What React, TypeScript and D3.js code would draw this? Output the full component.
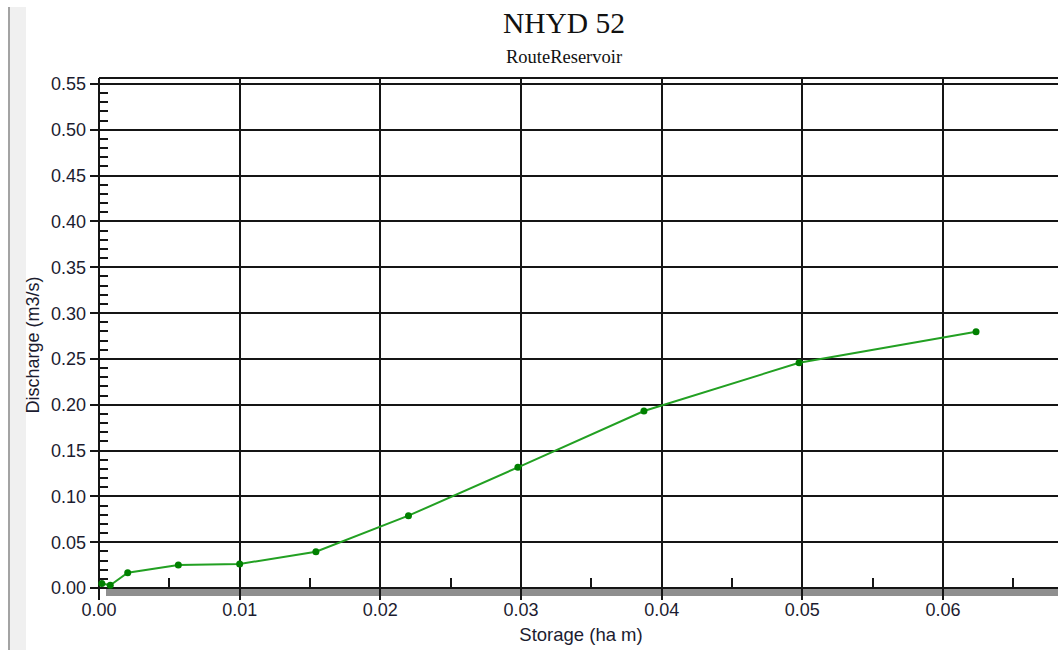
import React, { useEffect, useRef } from 'react';
import * as d3 from 'd3';

// storage (ha m) vs discharge (m3/s)
const STORAGE = [0.0002, 0.0008, 0.00204, 0.00564, 0.0100, 0.01542, 0.0220, 0.02978, 0.03874, 0.04977, 0.06235];
const DISCHARGE = [0.005, 0.003, 0.0167, 0.0251, 0.0262, 0.0396, 0.0789, 0.1317, 0.1931, 0.2458, 0.2797];
const X_TICKS = [0, 0.01, 0.02, 0.03, 0.04, 0.05, 0.06];
const Y_TICKS = [0, 0.05, 0.1, 0.15, 0.2, 0.25, 0.3, 0.35, 0.4, 0.45, 0.5, 0.55];

const W = 1058;
const H = 650;

const App: React.FC = () => {
  const svgRef = useRef<SVGSVGElement | null>(null);

  useEffect(() => {
    if (!svgRef.current) return;
    const svg = d3.select(svgRef.current);
    svg.selectAll('*').remove();

    const left = 99;
    const top = 78;
    const bottom = 588;

    const x = d3.scaleLinear().domain([0, 0.06]).range([left, 943]);
    const y = d3.scaleLinear().domain([0, 0.55]).range([bottom, 84]);
    const ink = '#151515';
    const sans = '"Liberation Sans", Arial, sans-serif';
    const labelColor = '#1c1c30';

    svg.append('rect').attr('width', W).attr('height', H).attr('fill', '#fff');

    // left window strip
    svg.append('rect').attr('x', 9).attr('y', 7).attr('width', 17).attr('height', H).attr('fill', '#f0f0f0');
    svg.append('rect').attr('x', 8).attr('y', 7).attr('width', 2).attr('height', H).attr('fill', '#a3a3a3');

    // title
    svg.append('text')
      .attr('x', 564).attr('y', 33)
      .attr('text-anchor', 'middle')
      .style('font-family', '"Liberation Serif", "Times New Roman", serif')
      .style('font-size', '29.5px')
      .attr('fill', '#111')
      .text('NHYD 52');
    svg.append('text')
      .attr('x', 564).attr('y', 63)
      .attr('text-anchor', 'middle')
      .style('font-family', '"Liberation Serif", "Times New Roman", serif')
      .style('font-size', '18.5px')
      .attr('fill', '#111')
      .text('RouteReservoir');

    // shadow under x axis
    svg.append('rect').attr('x', 106).attr('y', 589).attr('width', W).attr('height', 7).attr('fill', '#8f8f8f');

    const g = svg.append('g').attr('stroke', ink).attr('stroke-width', 2).attr('fill', 'none');

    // top border
    g.append('line').attr('x1', left).attr('x2', W).attr('y1', top).attr('y2', top);

    // horizontal grid + major y ticks
    g.selectAll('line.hy').data(Y_TICKS).enter().append('line')
      .attr('class', 'hy')
      .attr('x1', left - 9).attr('x2', W)
      .attr('y1', (d) => Math.round(y(d))).attr('y2', (d) => Math.round(y(d)));

    // minor y ticks
    const yMinor = d3.range(0, 0.55, 0.01).filter((v) => Math.abs(v / 0.05 - Math.round(v / 0.05)) > 1e-6);
    g.selectAll('line.my').data(yMinor).enter().append('line')
      .attr('class', 'my')
      .attr('x1', left).attr('x2', left + 9)
      .attr('y1', (d) => Math.round(y(d))).attr('y2', (d) => Math.round(y(d)));

    // vertical grid + major x ticks
    g.selectAll('line.vx').data(X_TICKS).enter().append('line')
      .attr('class', 'vx')
      .attr('x1', (d) => Math.round(x(d))).attr('x2', (d) => Math.round(x(d)))
      .attr('y1', top).attr('y2', 600);

    // minor x ticks
    const xMinor = d3.range(0.005, 0.07, 0.01);
    g.selectAll('line.mx').data(xMinor).enter().append('line')
      .attr('class', 'mx')
      .attr('x1', (d) => Math.round(x(d))).attr('x2', (d) => Math.round(x(d)))
      .attr('y1', bottom - 10).attr('y2', bottom);

    // tick labels
    svg.selectAll('text.yl').data(Y_TICKS).enter().append('text')
      .attr('class', 'yl')
      .attr('x', 86).attr('y', (d) => y(d))
      .attr('dy', '0.36em')
      .attr('text-anchor', 'end')
      .style('font-family', sans).style('font-size', '18px')
      .attr('fill', labelColor)
      .text((d) => d3.format('.2f')(d));

    svg.selectAll('text.xl').data(X_TICKS).enter().append('text')
      .attr('class', 'xl')
      .attr('x', (d) => x(d)).attr('y', 616)
      .attr('text-anchor', 'middle')
      .style('font-family', sans).style('font-size', '18px')
      .attr('fill', labelColor)
      .text((d) => d3.format('.2f')(d));

    // axis titles
    svg.append('text')
      .attr('x', 581).attr('y', 641)
      .attr('text-anchor', 'middle')
      .style('font-family', sans).style('font-size', '18.5px')
      .attr('fill', labelColor)
      .text('Storage (ha m)');
    svg.append('text')
      .attr('transform', 'translate(39, 345) rotate(-90)')
      .attr('text-anchor', 'middle')
      .style('font-family', sans).style('font-size', '18px')
      .attr('fill', labelColor)
      .text('Discharge (m3/s)');

    // series
    const pts = STORAGE.map((s, i) => [s, DISCHARGE[i]] as [number, number]);
    const line = d3.line<[number, number]>().x((d) => x(d[0])).y((d) => y(d[1]));
    svg.append('path')
      .attr('d', line(pts))
      .attr('fill', 'none')
      .attr('stroke', '#22a022')
      .attr('stroke-width', 2);
    svg.selectAll('circle.pt').data(pts).enter().append('circle')
      .attr('class', 'pt')
      .attr('cx', (d) => x(d[0])).attr('cy', (d) => y(d[1]))
      .attr('r', 3.5)
      .attr('fill', '#008000');
  }, []);

  return (
    <svg
      ref={svgRef}
      width={W}
      height={H}
      style={{ position: 'absolute', left: 0, top: 0, display: 'block' }}
    />
  );
};

export default App;
